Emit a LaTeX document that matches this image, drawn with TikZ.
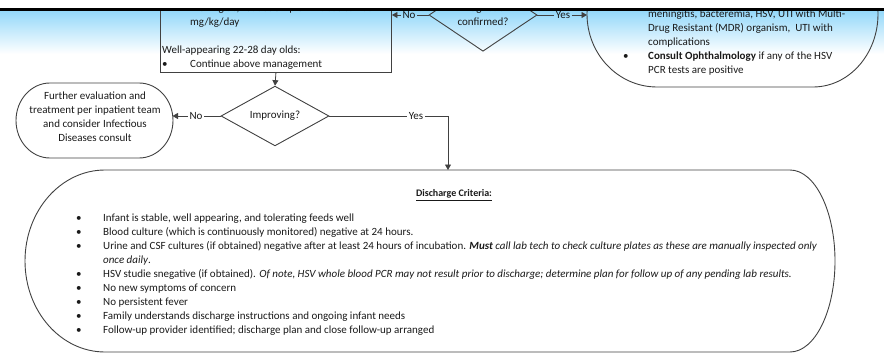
\documentclass[tikz,border=0pt]{standalone}
\usepackage{fontspec}
\setmainfont{Carlito}
\usetikzlibrary{shapes.geometric,arrows.meta}
\definecolor{hdrblue}{RGB}{150,217,250}
\definecolor{ink}{RGB}{25,25,25}
\definecolor{edgegray}{RGB}{65,65,65}

\begin{document}
\begin{tikzpicture}[x=1pt,y=-1pt,
  font=\fontsize{11}{14}\selectfont,
  outline/.style={draw=edgegray, line width=0.9pt},
  flow/.style={draw=edgegray, line width=0.8pt},
  arr/.style={flow, -{Triangle[width=6pt,length=5.5pt]}},
  decision/.style={diamond, outline, inner sep=0pt, minimum width=108pt,
    minimum height=56pt, align=center, text=ink},
  lbl/.style={inner sep=1.5pt, text=ink},
  txt/.style={inner sep=0pt, anchor=base west, text=ink, align=left},
]
\useasboundingbox (0,0) rectangle (884,361);

% header band gradient
\shade[top color=hdrblue, middle color=hdrblue!55!white, bottom color=white]
  (0,11.5) rectangle (884,54);

% management box (continues above the header)
\node[outline, minimum width=231pt, minimum height=92.5pt, anchor=south west,
  inner sep=0pt] (mgmt) at (160,72.5) {};
\node[txt] (mgmtText) at (162,12) {%
  \begin{tabular}[t]{@{}p{28pt}@{}l@{}}
    & meningitis, reduce ampicillin dose to 200\\
    & mg/kg/day\\
    \multicolumn{2}{@{}l@{}}{}\\
    \multicolumn{2}{@{}l@{}}{Well-appearing 22-28 day olds:}\\
    \textbullet & Continue above management
  \end{tabular}};

% diagnosis decision
\node[decision] (confirmed) at (483,15) {Diagnosis\\confirmed?};

% specialist consult terminator
\draw[outline] (657,-59) arc[start angle=90, end angle=270, x radius=70pt, y radius=73pt]
  -- (813,87) arc[start angle=-90, end angle=90, x radius=65pt, y radius=73pt] -- cycle;
\coordinate (spec) at (587,15);
\node[txt] (specText) at (623,18) {%
  \begin{tabular}[t]{@{}p{25pt}@{}l@{}}
    & meningitis, bacteremia, HSV, UTI with Multi-\\
    & Drug Resistant (MDR) organism,\ \ UTI with\\
    & complications\\
    \textbullet & \textbf{Consult Ophthalmology} if any of the HSV\\
    & PCR tests are positive
  \end{tabular}};

% improving decision
\node[decision] (improving) at (275,116) {Improving?};

% further evaluation terminator
\draw[outline] (50,83) -- (139,83)
  arc[start angle=90, end angle=-90, x radius=34pt, y radius=37.5pt]
  -- (50,158) arc[start angle=270, end angle=90, x radius=34pt, y radius=37.5pt] -- cycle;
\coordinate (further) at (172.5,116);
\node[align=center, text=ink, inner sep=0pt] (furtherText) at (95,117)
  {Further evaluation and\\treatment per inpatient team\\and consider Infectious\\Diseases consult};

% discharge criteria terminator
\draw[outline] (105,170) -- (790,170)
  arc[start angle=90, end angle=-90, x radius=45pt, y radius=91pt]
  -- (105,352) arc[start angle=270, end angle=90, x radius=80pt, y radius=91pt] -- cycle;
\coordinate (discharge) at (448,170);
\node[text=ink, inner sep=0pt, font=\fontsize{10}{12}\selectfont] (dtitle) at (454,195)
  {\textbf{\underline{Discharge Criteria:}}};
\node[txt] (dlist) at (76,221) {%
  \begin{tabular}[t]{@{}p{27pt}@{}l@{}}
    \textbullet & Infant is stable, well appearing, and tolerating feeds well\\
    \textbullet & Blood culture (which is continuously monitored) negative at 24 hours.\\
    \textbullet & Urine and CSF cultures (if obtained) negative after at least 24 hours of incubation. \textbf{\textit{Must}} \textit{call lab tech to check culture plates as these are manually inspected only}\\
    & \textit{once daily}.\\
    \textbullet & HSV studie snegative (if obtained). \textit{Of note, HSV whole blood PCR may not result prior to discharge; determine plan for follow up of any pending lab results.}\\
    \textbullet & No new symptoms of concern\\
    \textbullet & No persistent fever\\
    \textbullet & Family understands discharge instructions and ongoing infant needs\\
    \textbullet & Follow-up provider identified; discharge plan and close follow-up arranged
  \end{tabular}};

% connectors
\node[lbl] (noTop) at (409,15) {No};
\node[lbl] (yesTop) at (563,15) {Yes};
\draw[flow] (confirmed.west) -- (noTop.east);
\draw[arr] (noTop.west) -- (mgmt.east |- confirmed.west);
\draw[flow] (confirmed.east) -- (yesTop.west);
\draw[arr] (yesTop.east) -- (spec);
\draw[arr] (mgmt.south) -- (improving.north);
\node[lbl] (noMid) at (196,116) {No};
\node[lbl] (yesMid) at (416,116) {Yes};
\draw[flow] (improving.west) -- (noMid.east);
\draw[arr] (noMid.west) -- (further);
\draw[flow] (improving.east) -- (yesMid.west);
\draw[arr] (yesMid.east) -| (discharge);

% header strip and rule drawn over the top of the chart
\fill[white] (0,0) rectangle (884,8.5);
\fill[black] (0,8.5) rectangle (884,11.5);
\end{tikzpicture}
\end{document}
